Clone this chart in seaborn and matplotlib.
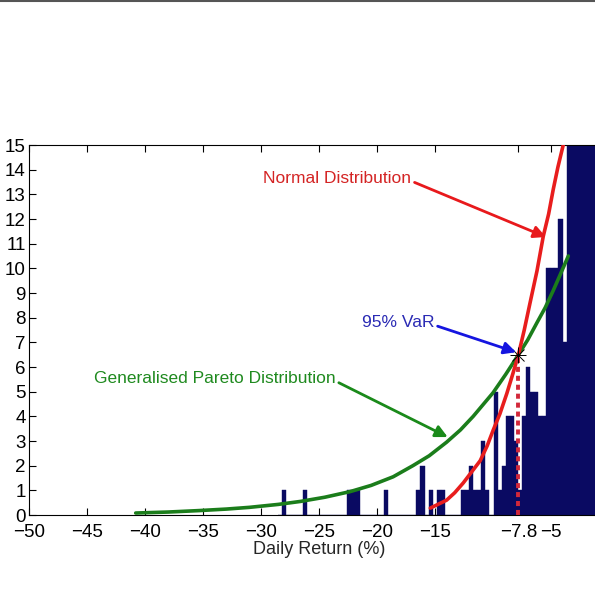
import numpy as np
import pandas as pd
import matplotlib
matplotlib.use("Agg")
import matplotlib.pyplot as plt
from matplotlib.lines import Line2D
import seaborn as sns

# histogram of daily returns (bin centres, counts), bin width 0.35
bin_width = 0.35
bin_centres = [-1.375, -1.725, -2.075, -2.425, -2.775, -3.125, -3.475, -3.825,
               -4.175, -4.525, -4.875, -5.225, -5.575, -5.925, -6.275, -6.625,
               -6.975, -7.325, -7.675, -8.025, -8.375, -8.725, -9.075, -9.425,
               -9.775, -10.475, -10.825, -11.175, -11.525, -11.875, -12.225,
               -12.575, -14.325, -14.675, -15.375, -16.075, -16.425, -19.225,
               -21.675, -22.025, -22.375, -26.225, -27.975]
counts = [30, 28, 26, 25, 23, 21, 18, 7,
          12, 10, 10, 10, 4, 4, 5, 5,
          6, 4, 1, 3, 4, 4, 2, 1,
          5, 1, 3, 1, 1, 2, 1,
          1, 1, 1, 1, 2, 1, 1,
          1, 1, 1, 1, 1]

# fitted normal density
normal_x = [-15.4, -14.0, -13.3, -12.56, -11.1, -10.5, -9.97, -9.4, -8.8, -8.3,
            -7.8, -7.3, -6.8, -6.2, -5.66, -5.2, -4.8, -4.4, -3.94, -3.7]
normal_y = [0.28, 0.6, 0.9, 1.3, 2.2, 2.8, 3.45, 4.1, 4.93, 5.7,
            6.5, 7.5, 8.6, 9.9, 11.3, 12.2, 13.2, 14.1, 15.0, 15.6]

# fitted generalised Pareto density
gpd_x = [-40.8, -38, -35.3, -33, -31, -28.5, -26.6, -24.5, -22.3, -20.5, -18.6,
         -16.9, -15.5, -14.0, -12.8, -11.7, -10.0, -8.9, -7.8, -7.0, -6.2,
         -5.5, -4.8, -4.1, -3.5]
gpd_y = [0.08, 0.12, 0.18, 0.24, 0.31, 0.43, 0.55, 0.72, 0.95, 1.2, 1.55,
         2.0, 2.4, 2.95, 3.45, 4.0, 4.95, 5.7, 6.5, 7.1, 7.8,
         8.4, 9.1, 9.85, 10.5]

var_95 = -7.8
var_density = 6.5

x_ticks = [-50, -45, -40, -35, -30, -25, -20, -15, -7.8, -5]
x_tick_labels = ["\u221250", "\u221245", "\u221240", "\u221235", "\u221230",
                 "\u221225", "\u221220", "\u221215", "\u22127.8", "\u22125"]

sns.set_style("ticks")
plt.rcParams["font.family"] = ["Liberation Sans", "DejaVu Sans"]

fig = plt.figure(figsize=(5.95, 5.95), dpi=100)
ax = fig.add_axes([29 / 595, 80 / 595, 566 / 595, 370 / 595])

hist_df = pd.DataFrame({"ret": bin_centres, "n": counts})
sns.histplot(data=hist_df, x="ret", weights="n", binwidth=bin_width,
             binrange=(-1.2 - bin_width * 78, -1.2), color="#0a0a62",
             edgecolor="#0a0a62", linewidth=0.3, alpha=1, ax=ax, zorder=1)

norm_df = pd.DataFrame({"x": normal_x, "y": normal_y})
gpd_df = pd.DataFrame({"x": gpd_x, "y": gpd_y})
sns.lineplot(data=gpd_df, x="x", y="y", sort=False, estimator=None,
             color="#1b7d1b", lw=2.6, ax=ax, zorder=3)
sns.lineplot(data=norm_df, x="x", y="y", sort=False, estimator=None,
             color="#e81d1d", lw=2.6, ax=ax, zorder=3)

# VaR marker and dashed line
ax.plot([var_95, var_95], [0, var_density], color="#d2283a", lw=2.8,
        dashes=(1.3, 1.0), zorder=4)
ax.plot(var_95, var_density, marker="x", color="black", ms=9, mew=0.7, zorder=5)
ax.plot(var_95, var_density, marker="+", color="black", ms=12, mew=0.7, zorder=5)

# annotations
ax.annotate("Normal Distribution", xy=(-5.43, 11.27), xytext=(-29.8, 13.66),
            color="#d42424", fontsize=12.5, va="center", ha="left",
            arrowprops=dict(arrowstyle="-|>", color="#e8191c", lw=2,
                            mutation_scale=18, shrinkA=0, shrinkB=0,
                            relpos=(1.0, 0.3)), zorder=6)
ax.annotate("95% VaR", xy=(-8.0, 6.6), xytext=(-21.3, 7.82),
            color="#2a2ab4", fontsize=12.5, va="center", ha="left",
            arrowprops=dict(arrowstyle="-|>", color="#1515e0", lw=2,
                            mutation_scale=18, shrinkA=0, shrinkB=0,
                            relpos=(1.0, 0.3)), zorder=6)
ax.annotate("Generalised Pareto Distribution", xy=(-13.9, 3.16),
            xytext=(-44.4, 5.55), color="#1f8a1f", fontsize=12.5,
            va="center", ha="left",
            arrowprops=dict(arrowstyle="-|>", color="#1a8a1a", lw=2,
                            mutation_scale=18, shrinkA=0, shrinkB=0,
                            relpos=(1.0, 0.3)), zorder=6)

ax.set_xlim(-50, -1.2)
ax.set_ylim(0, 15)
ax.set_xticks(x_ticks)
ax.set_xticklabels(x_tick_labels)
ax.set_yticks(range(0, 16))
ax.tick_params(direction="in", top=True, right=False, length=5, width=0.8,
               labelsize=13.5, colors="black")
ax.tick_params(axis="x", pad=6.5)
ax.tick_params(axis="y", pad=2.5)
ax.set_xlabel("Daily Return (%)", fontsize=13)
ax.xaxis.set_label_coords(0.512, -0.07)
ax.set_ylabel("")
for side in ["left", "bottom", "top"]:
    ax.spines[side].set_color("black")
    ax.spines[side].set_linewidth(0.8)
ax.spines["right"].set_visible(False)

fig.add_artist(Line2D([0, 1], [0.998, 0.998], transform=fig.transFigure,
                      color="#555555", lw=1.5))

fig.savefig("out.png", dpi=100)
